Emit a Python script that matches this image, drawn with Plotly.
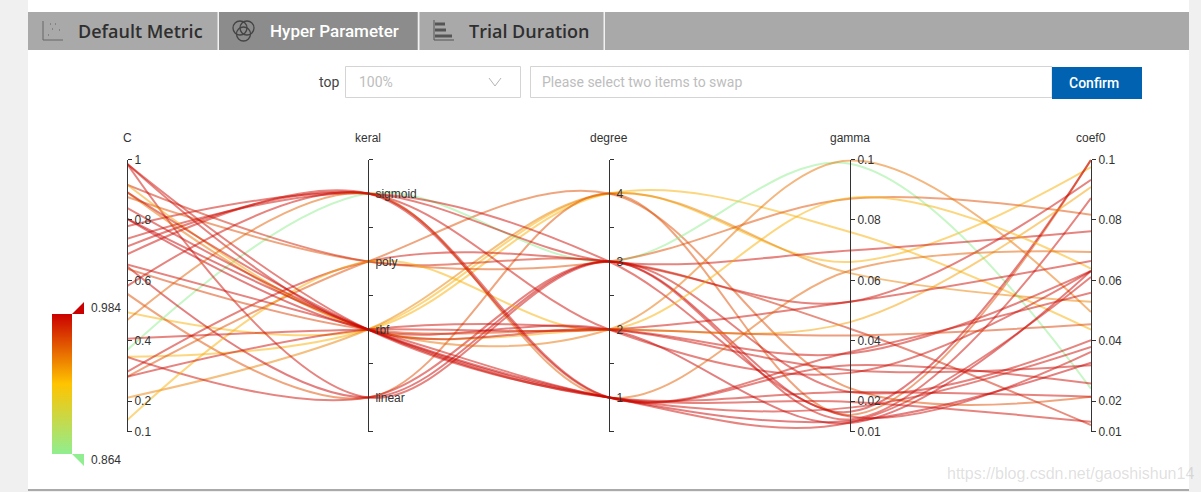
import plotly.graph_objects as go

# ---------- data ----------
axis_names = ["C", "keral", "degree", "gamma", "coef0"]
kernel_categories = ["linear", "rbf", "poly", "sigmoid"]
degree_categories = ["1", "2", "3", "4"]
c_ticks = [0.1, 0.2, 0.4, 0.6, 0.8, 1]
gamma_ticks = [0.01, 0.02, 0.04, 0.06, 0.08, 0.1]
coef_ticks = [0.01, 0.02, 0.04, 0.06, 0.08, 0.1]
metric_range = [0.864, 0.984]

c_values = [.495, .347, .212, .281, .556, .369, .779, .876, .297, .917, .986, .647, .347, .738, .892, .137,
            .917, .407, .986, .712, .804, .281, .639, .468, .686, .581, .986, .892, .840, .804, .653]
kernel_values = ["rbf", "rbf", "rbf", "poly", "linear", "sigmoid", "sigmoid", "poly", "poly", "poly", "linear",
                 "linear", "linear", "sigmoid", "rbf", "poly", "rbf", "rbf", "rbf", "sigmoid", "rbf", "rbf", "rbf",
                 "sigmoid", "sigmoid", "sigmoid", "rbf", "rbf", "rbf", "rbf", "rbf"]
degree_values = [4, 4, 4, 4, 4, 3, 3, 3, 3, 3, 3, 3, 3, 3, 2, 2, 2, 2, 2, 2, 2, 2, 2, 1, 1, 1, 1, 1, 1, 1, 1]
gamma_values = [.0760, .0661, .0624, .0243, .0155, .0986, .0699, .0870, .0529, .0440, .0231, .0165, .0140, .0150,
                .0997, .0873, .0462, .0529, .0358, .0294, .0128, .0303, .0418, .0633, .0363, .0319, .0198, .0231,
                .0179, .0135, .0130]
coef_values = [.0437, .0975, .0529, .0215, .0999, .0242, .0763, .0817, .0933, .0121, .0402, .0999, .0872, .0363,
               .0495, .0639, .0909, .0664, .0631, .0631, .0631, .0319, .0455, .0694, .0559, .0259, .0132, .0215,
               .0380, .0328, .0611]
metric_values = [.930, .930, .945, .960, .960, .864, .981, .960, .981, .975, .981, .984, .981, .981, .950, .930,
                 .935, .981, .981, .981, .984, .981, .965, .955, .981, .981, .981, .981, .981, .984, .981]

# ---------- layout constants ----------
W, H = 1201, 492
AX_L, AX_R, AX_T, AX_B = 127, 1091, 159.5, 431.5
LOW, MID, HIGH = (144, 238, 144), (255, 196, 0), (202, 0, 0)
INK = "#333333"


def px(x):
    return x / W


def py(y):
    return 1 - y / H


def mix(a, b, t):
    return tuple(round(a[i] + (b[i] - a[i]) * t) for i in range(3))


def metric_color(v):
    t = (v - metric_range[0]) / (metric_range[1] - metric_range[0])
    rgb = mix(LOW, MID, t * 2) if t < 0.5 else mix(MID, HIGH, (t - 0.5) * 2)
    return "rgba(%d,%d,%d,0.5)" % rgb


def unit(v, lo, hi):
    return (v - lo) / (hi - lo)


fig = go.Figure()

# one line per trial, through the five axes
for i in range(len(c_values)):
    ys = [
        unit(c_values[i], 0.1, 1),
        unit(kernel_categories.index(kernel_values[i]) + 0.5, 0, 4),
        unit(degree_values[i] - 0.5, 0, 4),
        unit(gamma_values[i], 0.01, 0.1),
        unit(coef_values[i], 0.01, 0.1),
    ]
    fig.add_trace(go.Scatter(
        x=list(range(5)), y=ys, mode="lines", cliponaxis=False, hoverinfo="skip", showlegend=False,
        line=dict(shape="spline", smoothing=1.0, width=2, color=metric_color(metric_values[i])),
    ))

# invisible traces that keep the parallel axes alive
for i in range(5):
    fig.add_trace(go.Scatter(x=[i], y=[None], yaxis="y%d" % (i + 2), mode="markers",
                             marker=dict(opacity=0), showlegend=False, hoverinfo="skip"))

# gradient legend
fig.add_trace(go.Scatter(
    x=[None], y=[None], mode="markers", showlegend=False, hoverinfo="skip",
    marker=dict(
        color=[metric_range[0]], cmin=metric_range[0], cmax=metric_range[1],
        colorscale=[[0, "rgb(%d,%d,%d)" % LOW], [0.5, "rgb(%d,%d,%d)" % MID], [1, "rgb(%d,%d,%d)" % HIGH]],
        showscale=True,
        colorbar=dict(
            x=px(52), xanchor="left", y=py(314), yanchor="top", thickness=20, thicknessmode="pixels",
            len=140, lenmode="pixels", outlinewidth=0, ticks="", showticklabels=False, xpad=0, ypad=0,
            borderwidth=0,
        ),
    ),
))

shapes = []


def rect(x0, y0, x1, y1, fill):
    shapes.append(dict(type="rect", xref="paper", yref="paper", x0=px(x0), x1=px(x1), y0=py(y0), y1=py(y1),
                       fillcolor=fill, line=dict(width=0), layer="below"))


def box(x0, y0, x1, y1):
    shapes.append(dict(type="rect", xref="paper", yref="paper", x0=px(x0), x1=px(x1), y0=py(y0), y1=py(y1),
                       fillcolor="#ffffff", line=dict(width=1, color="#d4d4d4"), layer="below"))


def seg(x0, y0, x1, y1, col="#555555", w=1):
    shapes.append(dict(type="line", xref="paper", yref="paper", x0=px(x0), x1=px(x1), y0=py(y0), y1=py(y1),
                       line=dict(width=w, color=col), layer="above"))


def circle(cx, cy, r, col="#444444", w=1.3):
    shapes.append(dict(type="circle", xref="paper", yref="paper", x0=px(cx - r), x1=px(cx + r), y0=py(cy - r),
                       y1=py(cy + r), line=dict(width=w, color=col), layer="above"))


def tri(pts, col):
    path = "M" + " L".join("%.5f,%.5f" % (px(a), py(b)) for a, b in pts) + " Z"
    shapes.append(dict(type="path", xref="paper", yref="paper", path=path, fillcolor=col, line=dict(width=0),
                       layer="above"))


rect(28, 0, 1189, 489, "#ffffff")
rect(28, 489, 1189, 491, "#aaaaaa")
rect(28, 12, 1189, 50, "#a9a9a9")
rect(219, 12, 417, 50, "#8c8c8c")
for bx in (217.5, 418, 603.5):
    rect(bx, 12, bx + 1.5, 50, "#f2f2f2")
box(345.5, 66.5, 520.5, 97.5)
box(530.5, 66.5, 1052, 97.5)
rect(1052, 67, 1142, 99, "#0062b1")

# small tab icons
seg(43, 21, 43, 40, "#666666")
seg(43, 40, 63, 40, "#666666")
for dx, dy in ((48, 35), (52, 29), (55, 24), (59, 30), (50, 24)):
    seg(dx, dy, dx + 1, dy, "#777777", 1.5)
circle(240, 28, 7)
circle(247, 28, 7)
circle(243.5, 34, 7)
seg(434, 20, 434, 40, "#555555")
seg(434, 40, 454, 40, "#555555")
for (a, b) in ((24, 445), (30, 446), (36, 452)):
    seg(435, a, b, a, "#555555", 3)
# dropdown chevron
seg(489, 78, 495, 86, "#b5b5b5")
seg(495, 86, 501, 78, "#b5b5b5")
# legend handles
tri([(72, 314), (84, 314), (84, 302)], "#ca0000")
tri([(72, 454), (84, 454), (84, 466)], "#90ee90")

annotations = []


def label(x, y, text, size=12, color=INK, anchor="left", family="Liberation Sans", weight=None):
    shift = -1 if anchor == "left" else 0
    annotations.append(dict(xref="paper", yref="paper", x=px(x), y=py(y), text=text, showarrow=False,
                            xanchor=anchor, yanchor="middle", xshift=shift, yshift=0,
                            font=dict(size=size, color=color, family=family, weight=weight)))


for i, name in enumerate(axis_names):
    label(AX_L + (AX_R - AX_L) * i / 4, 138, name, anchor="center")
label(77, 31, "Default Metric", 18, "#2f2f2f", family="Open Sans", weight=600)
label(269, 31, "Hyper Parameter", 17, "#ffffff", family="Roboto", weight=500)
label(468, 31, "Trial Duration", 18, "#2f2f2f", family="Open Sans", weight=600)
label(318, 82, "top", 14, "#444444", family="Roboto")
label(358, 82, "100%", 14, "#bdbdbd", family="Roboto")
label(541, 82, "Please select two items to swap", 14, "#bdbdbd", family="Roboto")
label(1094, 83, "Confirm", 14, "#ffffff", anchor="center", family="Roboto", weight=500)
label(90, 308, "0.984")
label(90, 460, "0.864")
label(946, 473, "https://blog.csdn.net/gaoshishun14", 16, "rgba(150,150,150,0.3)")


def numeric_axis(i, lo, hi, ticks):
    return dict(
        anchor="free", overlaying="y", side="right", position=px(AX_L + (AX_R - AX_L) * i / 4),
        domain=[py(AX_B), py(AX_T)], range=[lo, hi], tickmode="array", tickvals=ticks,
        ticktext=[str(t) for t in ticks], ticks="outside", ticklen=4, tickwidth=1, tickcolor=INK,
        showline=True, linecolor=INK, linewidth=1, showgrid=False, zeroline=False,
        tickfont=dict(size=12, color=INK, family="Liberation Sans"),
    )


def band_axis(i, cats):
    return dict(
        anchor="free", overlaying="y", side="right", position=px(AX_L + (AX_R - AX_L) * i / 4),
        domain=[py(AX_B), py(AX_T)], range=[0, len(cats)], tickmode="array",
        tickvals=[k + 0.5 for k in range(len(cats))], ticktext=cats, ticks="", ticklabelstandoff=4,
        minor=dict(tickvals=list(range(len(cats) + 1)), ticks="outside", ticklen=4, tickwidth=1, tickcolor=INK),
        showline=True, linecolor=INK, linewidth=1, showgrid=False, zeroline=False,
        tickfont=dict(size=12, color=INK, family="Liberation Sans"),
    )


fig.update_layout(
    width=W, height=H, autosize=False, margin=dict(l=0, r=0, t=0, b=0, autoexpand=False),
    paper_bgcolor="#f0f0f0", plot_bgcolor="rgba(0,0,0,0)", showlegend=False, shapes=shapes,
    annotations=annotations,
    xaxis=dict(domain=[px(AX_L), px(AX_R)], range=[0, 4], visible=False, fixedrange=True),
    yaxis=dict(domain=[py(AX_B), py(AX_T)], range=[0, 1], visible=False, fixedrange=True),
    yaxis2=numeric_axis(0, 0.1, 1, c_ticks),
    yaxis3=band_axis(1, kernel_categories),
    yaxis4=band_axis(2, degree_categories),
    yaxis5=numeric_axis(3, 0.01, 0.1, gamma_ticks),
    yaxis6=numeric_axis(4, 0.01, 0.1, coef_ticks),
)

fig.write_html("out.html", config=dict(displayModeBar=False),
               post_script="document.body.style.margin='0';document.body.style.overflow='hidden';")
